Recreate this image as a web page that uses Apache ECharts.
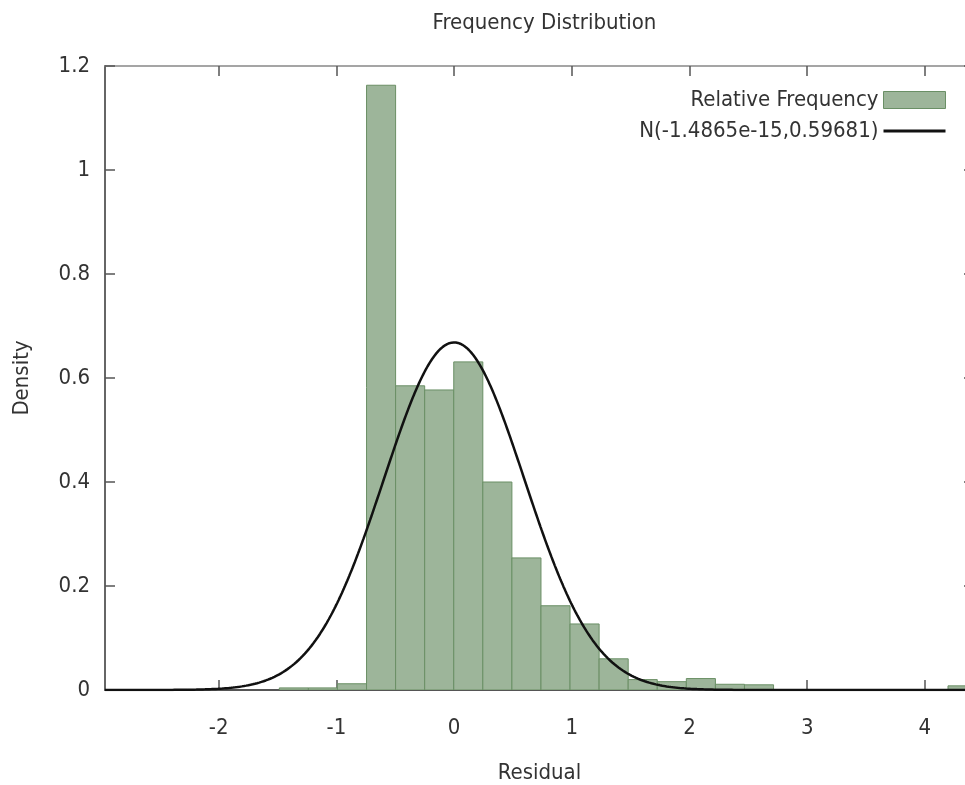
<!DOCTYPE html>
<html>
<head>
<meta charset="utf-8">
<title>Frequency Distribution</title>
<script src="https://cdn.jsdelivr.net/npm/echarts@6/dist/echarts.min.js"></script>
<style>
  html, body { margin: 0; padding: 0; background: #ffffff; overflow: hidden; }
  #chart { width: 965px; height: 785px; }
</style>
</head>
<body>
<div id="chart"></div>
<script>
// Histogram of residuals: bins start at binStart, each binWidth wide
const binStart = -1.485;
const binWidth = 0.247;
const density = [
  0.004, 0.004, 0.012, 1.163, 0.585, 0.577, 0.631, 0.400,
  0.254, 0.162, 0.127, 0.060, 0.020, 0.016, 0.022, 0.011,
  0.010, 0, 0, 0, 0, 0, 0, 0.008
];

// Fitted normal distribution parameters
const normalMean = -1.4865e-15;
const normalSd = 0.59681;

// Axis ranges and ticks
const xRange = [-2.966, 4.417];
const xTicks = [-2, -1, 0, 1, 2, 3, 4];
const yRange = [0, 1.2];
const yStep = 0.2;

const histName = 'Relative Frequency';
const curveName = 'N(' + normalMean.toExponential(4) + ',' + normalSd + ')';

const fontFamily = "'DejaVu Sans Condensed', 'DejaVu Sans', sans-serif";
const fontSize = 22;
const textColor = '#333333';
const barFill = '#9db59a';
const barEdge = '#6a8f65';
const curveColor = '#111111';

const binData = density.map((d, i) => [binStart + i * binWidth, binStart + (i + 1) * binWidth, d]);

// Density of the fitted normal curve sampled across the x range
const curveData = [];
for (let k = 0; k <= 800; k++) {
  const x = xRange[0] + (xRange[1] - xRange[0]) * k / 800;
  const z = (x - normalMean) / normalSd;
  curveData.push([x, Math.exp(-0.5 * z * z) / (normalSd * Math.sqrt(2 * Math.PI))]);
}

const chart = echarts.init(document.getElementById('chart'), null, { renderer: 'canvas' });

const tickStyle = { inside: true, length: 10, lineStyle: { color: '#555555', width: 1.5 } };

// The plot frame runs a little past the right edge of the canvas
const plotLeft = 105;
const plotWidth = 869;

chart.setOption({
  animation: false,
  backgroundColor: '#ffffff',
  textStyle: { fontFamily: fontFamily, color: textColor },
  title: {
    text: 'Frequency Distribution',
    left: plotLeft + plotWidth / 2,
    textAlign: 'center',
    top: 7,
    textStyle: { fontFamily: fontFamily, fontSize: fontSize, fontWeight: 'normal', color: textColor }
  },
  legend: {
    orient: 'vertical',
    right: 13,
    top: 84,
    align: 'right',
    itemWidth: 62,
    itemHeight: 17,
    itemGap: 9,
    textStyle: { fontFamily: fontFamily, fontSize: fontSize, color: textColor },
    data: [
      { name: histName, icon: 'rect', itemStyle: { color: barFill, borderColor: barEdge, borderWidth: 1 } },
      {
        name: curveName,
        itemStyle: { color: 'transparent', borderColor: 'transparent', borderWidth: 0, opacity: 0 },
        lineStyle: { color: curveColor, width: 3 }
      }
    ]
  },
  grid: {
    left: plotLeft,
    width: plotWidth,
    top: 66,
    bottom: 95,
    containLabel: false,
    outerBoundsMode: 'none'
  },
  xAxis: [
    {
      type: 'value',
      position: 'bottom',
      min: xRange[0],
      max: xRange[1],
      name: 'Residual',
      nameLocation: 'middle',
      nameGap: 72,
      nameTextStyle: { fontFamily: fontFamily, fontSize: fontSize, color: textColor },
      axisLine: { show: true, onZero: false, lineStyle: { color: '#555555', width: 2 } },
      axisTick: Object.assign({ customValues: xTicks }, tickStyle),
      axisLabel: { customValues: xTicks, margin: 27, fontFamily: fontFamily, fontSize: fontSize, color: textColor },
      splitLine: { show: false }
    },
    {
      type: 'value',
      position: 'top',
      min: xRange[0],
      max: xRange[1],
      axisLine: { show: true, onZero: false, lineStyle: { color: '#888888', width: 1.5 } },
      axisTick: Object.assign({ customValues: xTicks }, tickStyle),
      axisLabel: { show: false },
      splitLine: { show: false }
    }
  ],
  yAxis: [
    {
      type: 'value',
      position: 'left',
      min: yRange[0],
      max: yRange[1],
      interval: yStep,
      name: 'Density',
      nameLocation: 'middle',
      nameGap: 72,
      nameTextStyle: { fontFamily: fontFamily, fontSize: fontSize, color: textColor },
      axisLine: { show: true, onZero: false, lineStyle: { color: '#666666', width: 2 } },
      axisTick: tickStyle,
      axisLabel: { margin: 15, fontFamily: fontFamily, fontSize: fontSize, color: textColor },
      splitLine: { show: false }
    },
    {
      type: 'value',
      position: 'right',
      min: yRange[0],
      max: yRange[1],
      interval: yStep,
      axisLine: { show: true, onZero: false, lineStyle: { color: '#888888', width: 1.5 } },
      axisTick: tickStyle,
      axisLabel: { show: false },
      splitLine: { show: false }
    }
  ],
  series: [
    {
      name: histName,
      type: 'custom',
      xAxisIndex: 0,
      yAxisIndex: 0,
      itemStyle: { color: barFill, borderColor: barEdge, borderWidth: 1 },
      encode: { x: [0, 1], y: 2 },
      data: binData,
      clip: true,
      renderItem: function (params, api) {
        const h = api.value(2);
        if (!(h > 0)) return null;
        const p0 = api.coord([api.value(0), 0]);
        const p1 = api.coord([api.value(1), h]);
        const shape = echarts.graphic.clipRectByRect(
          { x: p0[0], y: p1[1], width: p1[0] - p0[0], height: p0[1] - p1[1] },
          { x: params.coordSys.x, y: params.coordSys.y, width: params.coordSys.width, height: params.coordSys.height }
        );
        return shape && {
          type: 'rect',
          shape: shape,
          style: { fill: barFill, stroke: barEdge, lineWidth: 1 }
        };
      }
    },
    {
      name: curveName,
      type: 'line',
      xAxisIndex: 0,
      yAxisIndex: 0,
      data: curveData,
      showSymbol: false,
      symbol: 'none',
      smooth: false,
      lineStyle: { color: curveColor, width: 2.5 },
      itemStyle: { color: curveColor },
      z: 5
    }
  ]
});
</script>
</body>
</html>
